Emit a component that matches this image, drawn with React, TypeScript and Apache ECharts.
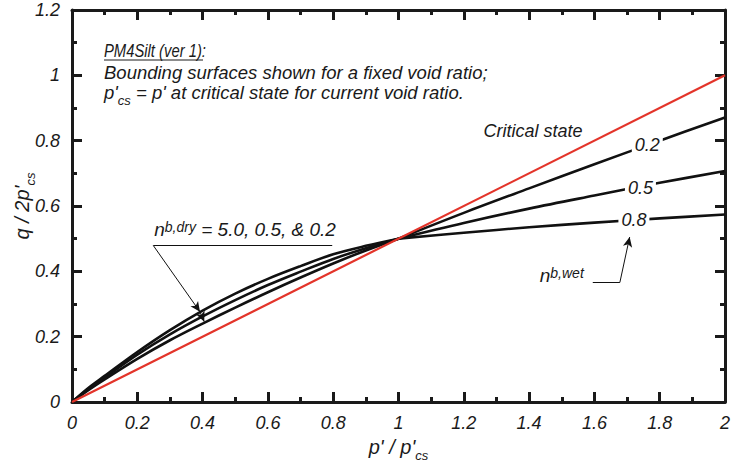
import React, { useEffect, useRef } from "react";
import * as echarts from "echarts";

// ---- data ----
const xDry = [0, 0.05, 0.1, 0.2, 0.3, 0.4, 0.5, 0.6, 0.7, 0.8, 0.9, 1.0];
const dry50 = [0, 0.043, 0.08, 0.153, 0.22, 0.28, 0.332, 0.377, 0.416, 0.452, 0.478, 0.5];
const dry05 = [0, 0.04, 0.075, 0.145, 0.207, 0.262, 0.312, 0.358, 0.399, 0.438, 0.471, 0.5];
const dry02 = [0, 0.036, 0.069, 0.132, 0.189, 0.24, 0.289, 0.336, 0.381, 0.424, 0.464, 0.5];

const xWet = [1.0, 1.2, 1.4, 1.6, 1.8, 2.0];
const wet02 = [0.5, 0.579, 0.654, 0.728, 0.8, 0.871];
const wet05 = [0.5, 0.548, 0.592, 0.632, 0.671, 0.707];
const wet08 = [0.5, 0.518, 0.535, 0.549, 0.562, 0.574];

const xCS = [0, 2];
const yCS = [0, 1];

// annotation anchors in data coordinates
const wetLabels = [
  { text: "0.2", x: 1.762, y: 0.786 },
  { text: "0.5", x: 1.741, y: 0.656 },
  { text: "0.8", x: 1.721, y: 0.556 },
];
const csLabel = { text: "Critical state", x: 1.412, y: 0.831 };
const dryLabel = { x: 0.53, y: 0.523 };
const dryLeader = { x0: 0.249, x1: 0.797, y: 0.479 };
const dryTips = [
  { x: 0.392, y: 0.276 },
  { x: 0.405, y: 0.246 },
];
const wetLabel = { x: 1.5, y: 0.382 };
const wetLeader = { x0: 1.595, x1: 1.678, y: 0.366, tipX: 1.708, tipY: 0.505 };

const FONT = "'Liberation Sans', Arial, Helvetica, sans-serif";
const TXT = "#1a1a1a";

const pairs = (xs: number[], ys: number[]) => xs.map((x, i) => [x, ys[i]]);

export default function App() {
  const ref = useRef<HTMLDivElement>(null);
  useEffect(() => {
    document.body.style.margin = "0";
    const chart = echarts.init(ref.current!, null, { renderer: "svg" });

    const axisCommon = {
      type: "value" as const,
      axisLine: { show: true, onZero: false, lineStyle: { color: "#1a1a1a", width: 3 } },
      axisTick: { show: true, inside: true, length: 10, lineStyle: { color: "#1a1a1a", width: 3 } },
      minorTick: { show: true, splitNumber: 2, length: 5, lineStyle: { color: "#1a1a1a", width: 3 } },
      splitLine: { show: false },
    };
    const labelStyle = {
      fontFamily: FONT,
      fontStyle: "italic" as const,
      fontSize: 18,
      color: TXT,
    };
    const nameRich = {
      a: { fontFamily: FONT, fontStyle: "italic", fontSize: 20, color: TXT, lineHeight: 24, verticalAlign: "bottom" },
      s: { fontFamily: FONT, fontStyle: "italic", fontSize: 13, color: TXT, lineHeight: 13, verticalAlign: "bottom", padding: [0, 0, -5, 0] },
    };

    const blackLine = (data: number[][]) => ({
      type: "line",
      data,
      smooth: 0.35,
      showSymbol: false,
      symbol: "none",
      lineStyle: { color: "#111", width: 2.6 },
      silent: true,
      z: 3,
    });

    const arrowLine = (x0: number, y0: number, x1: number, y1: number, head: boolean) => [
      { coord: [x0, y0], symbol: "none" },
      { coord: [x1, y1], symbol: head ? "arrow" : "none" },
    ];

    const supRich = {
      n: { fontFamily: FONT, fontStyle: "italic", fontSize: 19, color: TXT, lineHeight: 22, verticalAlign: "top" },
      p: { fontFamily: FONT, fontStyle: "italic", fontSize: 14, color: TXT, lineHeight: 13, verticalAlign: "top" },
    };

    const option: any = {
      animation: false,
      grid: { left: 72, right: 7, top: 10, bottom: 62, outerBoundsMode: "none", containLabel: false },
      xAxis: [
        {
          ...axisCommon,
          position: "bottom",
          min: 0,
          max: 2,
          interval: 0.2,
          axisLabel: { ...labelStyle, margin: 12, formatter: (v: number) => String(+v.toFixed(1)) },
          name: "{a|p' / p'}{s|cs}",
          nameLocation: "middle",
          nameGap: 31,
          nameMoveOverlap: false,
          nameTextStyle: { rich: nameRich },
        },
        {
          ...axisCommon,
          position: "top",
          min: 0,
          max: 2,
          interval: 0.2,
          axisLabel: { show: false },
        },
      ],
      yAxis: [
        {
          ...axisCommon,
          position: "left",
          min: 0,
          max: 1.2,
          interval: 0.2,
          axisLabel: { ...labelStyle, margin: 12, formatter: (v: number) => String(+v.toFixed(1)) },
          name: "{a|q / 2p'}{s|cs}",
          nameLocation: "middle",
          nameRotate: 90,
          nameGap: 40,
          nameMoveOverlap: false,
          nameTextStyle: { rich: nameRich },
        },
        {
          ...axisCommon,
          position: "right",
          min: 0,
          max: 1.2,
          interval: 0.2,
          axisLabel: { show: false },
        },
      ],
      series: [
        blackLine(pairs(xDry, dry50)),
        blackLine(pairs(xDry, dry05)),
        blackLine(pairs(xDry, dry02)),
        blackLine(pairs(xWet, wet02)),
        blackLine(pairs(xWet, wet05)),
        blackLine(pairs(xWet, wet08)),
        {
          type: "line",
          data: pairs(xCS, yCS),
          showSymbol: false,
          symbol: "none",
          lineStyle: { color: "#e3342a", width: 2.2 },
          z: 4,
          silent: true,
          markLine: {
            silent: true,
            symbolSize: [7, 10],
            label: { show: false },
            lineStyle: { color: "#111", width: 1, type: "solid" },
            data: [
              arrowLine(dryLeader.x0, dryLeader.y, dryLeader.x1, dryLeader.y, false),
              arrowLine(dryLeader.x0, dryLeader.y, dryTips[0].x, dryTips[0].y, true),
              arrowLine(dryTips[0].x, dryTips[0].y, dryTips[1].x, dryTips[1].y, true),
              arrowLine(wetLeader.x0, wetLeader.y, wetLeader.x1, wetLeader.y, false),
              arrowLine(wetLeader.x1, wetLeader.y, wetLeader.tipX, wetLeader.tipY, true),
            ],
          },
          markPoint: {
            silent: true,
            data: [
              ...wetLabels.map((l) => ({
                coord: [l.x, l.y],
                symbol: "rect",
                symbolSize: [31, 15],
                itemStyle: { color: "#ffffff" },
                label: {
                  show: true,
                  position: "inside",
                  formatter: l.text,
                  fontFamily: FONT,
                  fontStyle: "italic",
                  fontSize: 18,
                  color: TXT,
                },
              })),
              {
                coord: [csLabel.x, csLabel.y],
                symbol: "rect",
                symbolSize: 1,
                itemStyle: { color: "rgba(0,0,0,0)" },
                label: {
                  show: true,
                  position: "inside",
                  formatter: csLabel.text,
                  fontFamily: FONT,
                  fontStyle: "italic",
                  fontSize: 18,
                  color: TXT,
                },
              },
              {
                coord: [dryLabel.x, dryLabel.y],
                symbol: "rect",
                symbolSize: 1,
                itemStyle: { color: "rgba(0,0,0,0)" },
                label: {
                  show: true,
                  position: "inside",
                  formatter: "{n|n}{p|b,dry}{n| = 5.0, 0.5, & 0.2}",
                  rich: supRich,
                },
              },
              {
                coord: [wetLabel.x, wetLabel.y],
                symbol: "rect",
                symbolSize: 1,
                itemStyle: { color: "rgba(0,0,0,0)" },
                label: {
                  show: true,
                  position: "inside",
                  formatter: "{n|n}{p|b,wet}",
                  rich: supRich,
                },
              },
            ],
          },
        },
      ],
      graphic: [
        {
          type: "text",
          x: 104,
          y: 41,
          scaleX: 0.8,
          style: { text: "PM4Silt (ver 1):", font: `italic 18.5px ${FONT}`, fill: TXT },
        },
        {
          type: "line",
          shape: { x1: 104, y1: 60, x2: 203, y2: 60 },
          style: { stroke: TXT, lineWidth: 1 },
        },
        {
          type: "text",
          x: 104,
          y: 63,
          style: { text: "Bounding surfaces shown for a fixed void ratio;", font: `italic 18.5px ${FONT}`, fill: TXT },
        },
        {
          type: "text",
          x: 104,
          y: 83,
          style: {
            text: "{a|p'}{s|cs}{a| = p' at critical state for current void ratio.}",
            rich: {
              a: { fontFamily: FONT, fontStyle: "italic", fontSize: 18.5, fill: TXT, lineHeight: 24, verticalAlign: "top" },
              s: { fontFamily: FONT, fontStyle: "italic", fontSize: 13, fill: TXT, lineHeight: 13, verticalAlign: "bottom" },
            },
          },
        },
      ],
    };
    chart.setOption(option);
    return () => chart.dispose();
  }, []);
  return (
    <div
      ref={ref}
      style={{ position: "absolute", left: 0, top: 0, width: 732, height: 464, background: "#fff" }}
    />
  );
}
